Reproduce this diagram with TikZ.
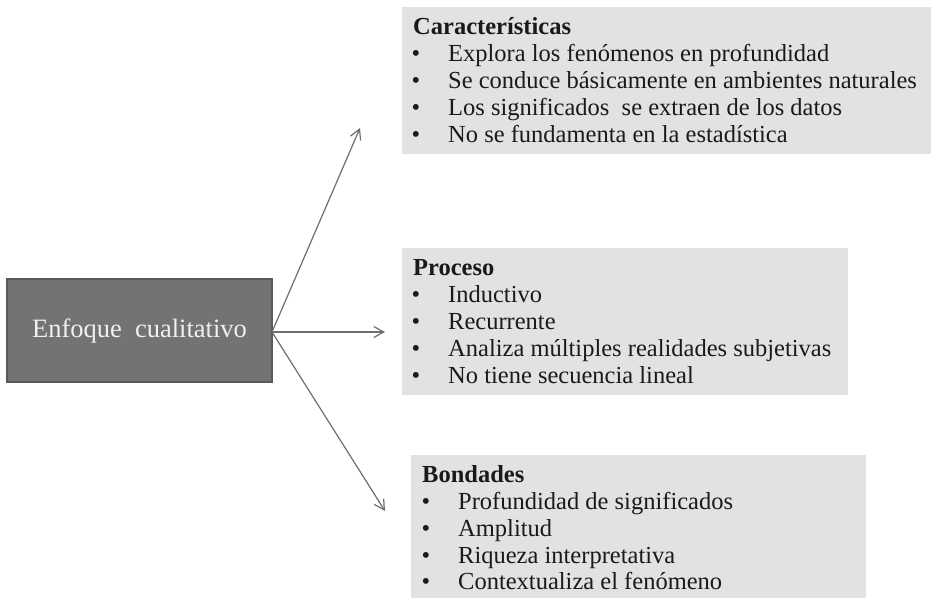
\documentclass[tikz,border=0pt]{standalone}
\usepackage{fontspec}
\setmainfont{Liberation Serif}
\usetikzlibrary{arrows.meta}
\definecolor{panelgray}{HTML}{E2E2E2}
\definecolor{mainfill}{HTML}{737373}
\definecolor{mainedge}{HTML}{5A5A5A}
\definecolor{arrowgray}{HTML}{6E6E6E}
\definecolor{txt}{HTML}{1A1A1A}
\tikzset{
  panel/.style={fill=panelgray, draw=none, anchor=north west, inner sep=0pt},
  mainbox/.style={fill=mainfill, draw=mainedge, line width=1.5pt, inner sep=0pt,
    minimum width=265pt, minimum height=103pt, text=white!94!black,
    font=\fontsize{26.5}{30}\selectfont},
  ttl/.style={anchor=base west, inner sep=0pt, text=txt, font=\fontsize{24.5}{27}\selectfont\bfseries},
  bul/.style={anchor=base, inner sep=0pt, text=txt, font=\fontsize{24.5}{27}\selectfont},
  itm/.style={anchor=base west, inner sep=0pt, text=txt, font=\fontsize{24.5}{27}\selectfont},
  conn/.style={draw=arrowgray, line width=1.2pt, -{Straight Barb[length=10pt,width=11pt,line width=1.2pt]}}
}
\begin{document}
\begin{tikzpicture}[x=1pt,y=-1pt]
\useasboundingbox (0,0) rectangle (931,598);
\fill[white] (0,0) rectangle (931,598);

% panels
\node[panel, minimum width=529pt, minimum height=147pt] (pcar) at (402,7) {};
\node[panel, minimum width=446pt, minimum height=147pt] (ppro) at (402,248) {};
\node[panel, minimum width=455pt, minimum height=143pt] (pbon) at (411,455) {};

% main box
\node[mainbox] (main) at (139.5,330.5) {Enfoque\ \ cualitativo};

% Caracteristicas
\node[ttl] (tcar) at (413,34) {Características};
\node[bul] (bc1) at (416,61.5) {•};
\node[itm] (ic1) at (448,61.5) {Explora los fenómenos en profundidad};
\node[bul] (bc2) at (416,88.5) {•};
\node[itm] (ic2) at (448,88.5) {Se conduce básicamente en ambientes naturales};
\node[bul] (bc3) at (416,115.5) {•};
\node[itm] (ic3) at (448,115.5) {Los significados\ \ se extraen de los datos};
\node[bul] (bc4) at (416,142.5) {•};
\node[itm] (ic4) at (448,142.5) {No se fundamenta en la estadística};

% Proceso
\node[ttl] (tpro) at (413,275) {Proceso};
\node[bul] (bp1) at (416,302.5) {•};
\node[itm] (ip1) at (448,302.5) {Inductivo};
\node[bul] (bp2) at (416,329.5) {•};
\node[itm] (ip2) at (448,329.5) {Recurrente};
\node[bul] (bp3) at (416,356.5) {•};
\node[itm] (ip3) at (448,356.5) {Analiza múltiples realidades subjetivas};
\node[bul] (bp4) at (416,383.5) {•};
\node[itm] (ip4) at (448,383.5) {No tiene secuencia lineal};

% Bondades
\node[ttl] (tbon) at (422,482) {Bondades};
\node[bul] (bb1) at (426,509.5) {•};
\node[itm] (ib1) at (458,509.5) {Profundidad de significados};
\node[bul] (bb2) at (426,536.5) {•};
\node[itm] (ib2) at (458,536.5) {Amplitud};
\node[bul] (bb3) at (426,563.5) {•};
\node[itm] (ib3) at (458,563.5) {Riqueza interpretativa};
\node[bul] (bb4) at (426,589.5) {•};
\node[itm] (ib4) at (458,589.5) {Contextualiza el fenómeno};

% connectors
\coordinate (src) at (272,332);
\coordinate (endcar) at (360,128);
\coordinate (endpro) at (385,332);
\coordinate (endbon) at (385,511);
\draw[conn] (src) -- (endcar);
\draw[conn] (src) -- (endpro);
\draw[conn] (src) -- (endbon);
\end{tikzpicture}
\end{document}
